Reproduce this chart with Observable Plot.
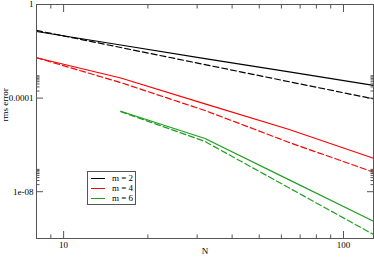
<!DOCTYPE html>
<html>
<head>
<meta charset="utf-8">
<script src="https://cdn.jsdelivr.net/npm/d3@7"></script>
<script src="https://cdn.jsdelivr.net/npm/@observablehq/plot@0.6"></script>
<style>
  html, body { margin: 0; padding: 0; background: #fff; }
  #wrap { position: relative; width: 374px; height: 259px; font-family: "Liberation Serif", "Times New Roman", serif; }
  #legend { position: absolute; left: 87px; top: 171px; width: 47px; height: 32px; border: 1px solid #555; background: #fff; font-size: 9px; }
  #legend .row { position: absolute; left: 2px; height: 10px; }
  #legend .sw { position: absolute; left: 1px; top: 5px; width: 14px; border-top: 1.2px solid #000; }
  #legend .tx { position: absolute; left: 22px; top: 0px; white-space: nowrap; line-height: 10px; }
</style>
</head>
<body>
<div id="wrap"><div id="chart"></div><div id="legend"></div></div>
<script>
// ---- data ----
const N = [8, 16, 32, 64, 128];
const m2Solid  = [0.070, 0.0186, 0.0049, 0.00131, 0.000347];
const m2Dashed = [0.078, 0.0145, 0.0027, 0.0005, 9.3e-5];
const m4Solid  = [5.3e-3, 7.2e-4, 5.7e-5, 4.55e-6, 2.7e-7];
const m4Dashed = [5.3e-3, 4.6e-4, 2.95e-5, 1.27e-6, 6.8e-8];
const N6 = [16, 32, 64, 128];
const m6Solid  = [2.75e-5, 1.88e-6, 3.2e-8, 5.5e-10];
const m6Dashed = [2.65e-5, 1.4e-6, 1.44e-8, 1.48e-10];

const legendLabels = ["m = 2", "m = 4", "m = 6"];
const colors = ["#000000", "#ff0000", "#1f9f1f"];

const xMajor = [10, 100];
const xMajorLabels = ["10", "100"];
const xMinor = [9, 20, 30, 40, 50, 60, 70, 80, 90];
const yMajor = [1, 1e-4, 1e-8];
const yMajorLabels = ["1", "0.0001", "1e-08"];
const yMinor = [2e-4, 3e-4, 4e-4, 5e-4, 6e-4, 7e-4, 8e-4, 9e-4, 2e-8, 3e-8, 4e-8, 5e-8, 6e-8, 7e-8, 8e-8, 9e-8];

const table = (xs, ys) => xs.map((x, i) => ({N: x, v: ys[i]}));

const axisColor = "#555";
const xFmt = d => xMajorLabels[xMajor.indexOf(d)] ?? "";
const yFmt = d => yMajorLabels[yMajor.indexOf(d)] ?? "";

const chart = Plot.plot({
  width: 374,
  height: 259,
  marginLeft: 36,
  marginRight: 1,
  marginTop: 4,
  marginBottom: 21,
  style: {fontFamily: "'Liberation Serif', 'Times New Roman', serif", fontSize: "9px", background: "#fff", color: "#000"},
  x: {type: "log", domain: [8, 128], label: null},
  y: {type: "log", domain: [1e-10, 1], label: null},
  marks: [
    Plot.line(table(N, m2Solid), {x: "N", y: "v", stroke: colors[0], strokeWidth: 1.2}),
    Plot.line(table(N, m2Dashed), {x: "N", y: "v", stroke: colors[0], strokeWidth: 1.2, strokeDasharray: "6,3"}),
    Plot.line(table(N, m4Solid), {x: "N", y: "v", stroke: colors[1], strokeWidth: 1.2}),
    Plot.line(table(N, m4Dashed), {x: "N", y: "v", stroke: colors[1], strokeWidth: 1.2, strokeDasharray: "6,3"}),
    Plot.line(table(N6, m6Solid), {x: "N", y: "v", stroke: colors[2], strokeWidth: 1.2}),
    Plot.line(table(N6, m6Dashed), {x: "N", y: "v", stroke: colors[2], strokeWidth: 1.2, strokeDasharray: "6,3"}),
    Plot.frame({stroke: axisColor}),
    Plot.axisX({anchor: "bottom", ticks: xMajor, tickSize: -7, tickPadding: 10, tickFormat: xFmt, stroke: axisColor, label: null}),
    Plot.axisX({anchor: "bottom", ticks: xMinor, tickSize: -3.5, tickFormat: () => "", stroke: axisColor, label: null}),
    Plot.axisX({anchor: "top", ticks: xMajor, tickSize: -7, tickFormat: () => "", stroke: axisColor, label: null}),
    Plot.axisX({anchor: "top", ticks: xMinor, tickSize: -3.5, tickFormat: () => "", stroke: axisColor, label: null}),
    Plot.axisY({anchor: "left", ticks: yMajor, tickSize: -7, tickPadding: 10, tickFormat: yFmt, stroke: axisColor, label: null}),
    Plot.axisY({anchor: "left", ticks: yMinor, tickSize: -3.5, tickFormat: () => "", stroke: axisColor, label: null}),
    Plot.axisY({anchor: "right", ticks: yMajor, tickSize: -7, tickFormat: () => "", stroke: axisColor, label: null}),
    Plot.axisY({anchor: "right", ticks: yMinor, tickSize: -3.5, tickFormat: () => "", stroke: axisColor, label: null}),
    Plot.text(["N"], {frameAnchor: "bottom", dy: 15, text: d => d, fontSize: 9}),
    Plot.text(["rms error"], {frameAnchor: "left", dx: -31, rotate: -90, text: d => d, fontSize: 9})
  ]
});
document.getElementById("chart").appendChild(chart);

const legend = document.getElementById("legend");
legendLabels.forEach((lab, i) => {
  const row = document.createElement("div");
  row.className = "row";
  row.style.top = (1 + i * 9.8) + "px";
  row.innerHTML = `<div class="sw" style="border-top-color:${colors[i]}"></div><div class="tx">${lab}</div>`;
  legend.appendChild(row);
});
</script>
</body>
</html>
